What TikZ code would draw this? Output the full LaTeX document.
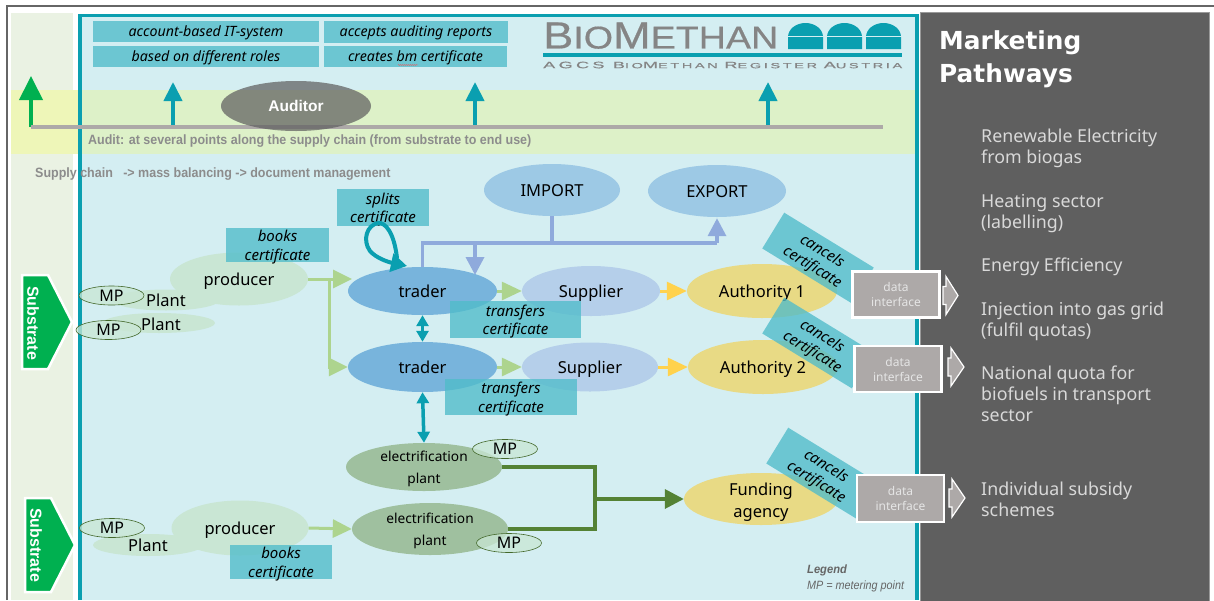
\documentclass[tikz,border=0pt]{standalone}
\usepackage{fontspec}
\setmainfont{Noto Sans}
\newfontfamily\arialfont{Liberation Sans}
\newfontfamily\logofont[FakeBold=0.5]{Liberation Sans}
\newfontfamily\logosubfont[LetterSpace=18,FakeBold=0.5]{Liberation Sans}
\newfontfamily\headfont{DejaVu Sans}
\usetikzlibrary{arrows.meta,calc,decorations.pathmorphing,shapes.geometric}
\definecolor{tealline}{HTML}{0A9FB0}
\definecolor{panelblue}{HTML}{D4EEF2}
\definecolor{palegreen}{HTML}{EAF2E3}
\definecolor{bandgreen}{HTML}{DDF1C8}
\definecolor{bandyellow}{HTML}{EEF6B8}
\definecolor{darkpanel}{HTML}{5F5F5F}
\definecolor{certteal}{HTML}{50BCCA}
\definecolor{plantgreen}{HTML}{C9E6D4}
\definecolor{tradeblue}{HTML}{78B4DC}
\definecolor{portblue}{HTML}{9DC9E5}
\definecolor{suppblue}{HTML}{B5CFEA}
\definecolor{authyellow}{HTML}{E8DA85}
\definecolor{elecgreen}{HTML}{9FC09F}
\definecolor{linkblue}{HTML}{8FAADC}
\definecolor{linkgreen}{HTML}{ADD48E}
\definecolor{linkyellow}{HTML}{FFD24D}
\definecolor{linkdark}{HTML}{548235}
\definecolor{substgreen}{HTML}{00B050}
\definecolor{ifacegrey}{HTML}{ADA9A8}
\definecolor{textgrey}{HTML}{8C8C8C}
\tikzset{
	plainoval/.style={ellipse,inner sep=0pt,draw=none,text=black,align=center,text height=12pt,text depth=0pt,font=\fontsize{16.5}{21}\selectfont},
	twolineoval/.style={plainoval,text height=36pt,text depth=0pt,font=\fontsize{16.5}{22}\selectfont},
	elecoval/.style={plainoval,text height=33pt,text depth=0pt,fill=elecgreen,font=\fontsize{13.7}{22}\selectfont},
	mpoval/.style={ellipse,inner sep=0pt,draw=linkdark!80!black,line width=0.6pt,fill=plantgreen,fill opacity=0.75,text opacity=1,minimum width=65pt,minimum height=19pt,font=\fontsize{16}{18}\selectfont},
	certbox/.style={rectangle,inner sep=0pt,fill=certteal,fill opacity=0.78,text opacity=1,align=center,text height=31pt,text depth=1pt,font=\fontsize{15}{18.5}\selectfont\itshape},
	topbox/.style={rectangle,inner sep=0pt,fill=certteal,fill opacity=0.78,text opacity=1,text height=12pt,text depth=3pt,font=\fontsize{14.2}{18}\selectfont\itshape},
	ifacebox/.style={rectangle,inner sep=0pt,draw=white,line width=2.5pt,fill=ifacegrey,text=white!90!black,align=center,minimum width=87pt,minimum height=46pt,font=\fontsize{12}{15}\selectfont},
	sidetext/.style={anchor=north west,inner sep=0pt,text=white!85!black,align=left,font=\fontsize{17.8}{21}\selectfont},
	greylabel/.style={anchor=west,inner sep=0pt,text=textgrey,font=\arialfont\bfseries\fontsize{13.5}{14}\selectfont},
	teallink/.style={line width=4pt,draw=tealline,-{Triangle[length=19pt,width=18pt]}},
	tealboth/.style={line width=3.5pt,draw=tealline,{Triangle[length=11pt,width=12pt]}-{Triangle[length=11pt,width=12pt]}},
	bluelink/.style={line width=3.5pt,draw=linkblue},
	greenlink/.style={line width=3pt,draw=linkgreen},
	darklink/.style={line width=3.5pt,draw=linkdark},
}
\def\outarrow(#1)(#2){\draw[line width=1.2pt,draw=white,fill=ifacegrey] ($(#1)+(0,-9)$) -- ++(3,0) -- ++(0,-10) -- ($(#1)+(#2,0)$) -- ($(#1)+(3,19)$) -- ++(0,-10) -- ++(-3,0) -- cycle;}
\def\substrate(#1){\draw[line width=2.5pt,draw=white,fill=substgreen] ($(#1)+(0,-47)$) -- ++(26,0) -- ++(24,47) -- ++(-24,47) -- ++(-26,0) -- cycle;}
\def\dome(#1){\fill[tealline] (#1) -- ++(0,-12) arc[start angle=180,end angle=360,x radius=17.5,y radius=14] -- ++(0,12) -- cycle; \draw[panelblue,line width=0.4pt] ($(#1)+(0,-13)$) -- ++(35,0);}

\begin{document}
\begin{tikzpicture}[x=1pt,y=-1pt]
	%%%%% START %%%%%
	\useasboundingbox (0,0) rectangle (1214,600);
	\fill[white] (0,0) rectangle (1214,600);
	
	% frame and panels
	\draw[line width=2pt,draw=black!60] (7,600) -- (7,6) -- (1214,6);
	\fill[palegreen] (11,13) rectangle (73,600);
	\fill[panelblue] (80,16) rectangle (917,600);
	\fill[bandyellow] (11,90) rectangle (80,154);
	\fill[bandgreen] (80,90) rectangle (917,154);
	\draw[line width=3.5pt,draw=tealline] (80,600) -- (80,15.5) -- (917,15.5) -- (917,600);
	\draw[line width=1pt,draw=black!40,fill=darkpanel] (920.5,601) -- (920.5,12.5) -- (1209.5,12.5) -- (1209.5,601) -- cycle;
	
	% logo
	\dome(788,49)
	\dome(827,49)
	\dome(866,49)
	\fill[tealline] (543,53) rectangle (902,57);
	\node[inner sep=0pt,anchor=south west,text=black!48] (logotext) at (543,49) {\resizebox{235pt}{26pt}{\logofont\fontsize{30}{30}\selectfont B\fontsize{25}{25}\selectfont IO\fontsize{30}{30}\selectfont M\fontsize{25}{25}\selectfont ETHAN}};
	\node[inner sep=0pt,anchor=south west,text=black!48] (logosub) at (543,68.5) {\resizebox{359pt}{6.5pt}{\logosubfont\fontsize{10}{10}\selectfont AGCS B\fontsize{8}{8}\selectfont IO\fontsize{10}{10}\selectfont M\fontsize{8}{8}\selectfont ETHAN \fontsize{10}{10}\selectfont R\fontsize{8}{8}\selectfont EGISTER \fontsize{10}{10}\selectfont A\fontsize{8}{8}\selectfont USTRIA}};
	
	% top boxes
	\node[topbox,minimum width=226pt,minimum height=21pt] (accountbox) at (206,31.5) {account-based IT-system};
	\node[topbox,minimum width=226pt,minimum height=21pt] (rolesbox) at (206,56.5) {based on different roles};
	\node[topbox,minimum width=184pt,minimum height=22pt] (auditbox) at (416,32) {accepts auditing reports};
	\node[topbox,minimum width=183pt,minimum height=21pt] (createbox) at (415.5,56.5) {creates bm certificate};
	\draw[red!70,line width=0.3pt,decorate,decoration={snake,amplitude=0.5pt,segment length=2pt}] (398,65) -- (418,65);
	
	% audit line
	\coordinate (auditL) at (31,127);
	\coordinate (auditR) at (883,127);
	\coordinate (audit1) at (173,127);
	\coordinate (audit2) at (475,127);
	\coordinate (audit3) at (768,127);
	\draw[line width=4pt,draw=substgreen,-{Triangle[length=24pt,width=23pt]}] (auditL) -- (31,76);
	\draw[teallink] (audit1) -- (173,82);
	\draw[teallink] (audit2) -- (475,82);
	\draw[teallink] (audit3) -- (768,82);
	\draw[line width=4pt,draw=ifacegrey] (auditL) -- (auditR);
	\node[ellipse,inner sep=0pt,minimum width=150pt,minimum height=50pt,fill=darkpanel,fill opacity=0.72,text opacity=1,text=white,font=\arialfont\bfseries\fontsize{15.5}{16}\selectfont] (auditor) at (296,106) {Auditor};
	\node[greylabel] (auditnote) at (88,141) {\scalebox{0.925}[1]{Audit: at several points along the supply chain (from substrate to end use)}};
	\node[greylabel] (supplynote) at (35,174.5) {\scalebox{0.925}[1]{Supply chain\ \ \ -> mass balancing -> document management}};
	
	% substrate arrows
	\substrate(22,322)
	\substrate(25,545)
	\node[rotate=-90,inner sep=0pt,text=white,font=\arialfont\bfseries\fontsize{16}{16}\selectfont] (subst1) at (33,323) {Substrate};
	\node[rotate=-90,inner sep=0pt,text=white,font=\arialfont\bfseries\fontsize{16}{16}\selectfont] (subst2) at (36,545) {Substrate};
	
	% upper chain
	\node[plainoval,fill=plantgreen,minimum width=107pt,minimum height=21pt] (plant1) at (166,300) {Plant};
	\node[plainoval,fill=plantgreen,minimum width=112pt,minimum height=20pt] (plant2) at (159,323) {};
	\node[inner sep=0pt,text height=12pt,text depth=0pt,font=\fontsize{16.5}{18}\selectfont] (plant2label) at (161,324) {Plant};
	\node[plainoval,fill=plantgreen,minimum width=138pt,minimum height=53pt] (producer1) at (239,279) {producer};
	\node[mpoval] (mp1) at (111.5,295.5) {MP};
	\node[mpoval] (mp2) at (108.5,330) {MP};
	\node[plainoval,fill=tradeblue,minimum width=149pt,minimum height=48pt] (trader1) at (422.5,291) {trader};
	\node[plainoval,fill=tradeblue,minimum width=149pt,minimum height=50pt] (trader2) at (422.5,367) {trader};
	\node[plainoval,fill=portblue,minimum width=136pt,minimum height=52pt] (import) at (552,190) {IMPORT};
	\node[plainoval,fill=portblue,minimum width=138pt,minimum height=52pt] (export) at (717,191) {EXPORT};
	\node[plainoval,fill=suppblue,minimum width=138pt,minimum height=50pt] (supplier1) at (591,291) {Supplier};
	\node[plainoval,fill=suppblue,minimum width=136pt,minimum height=49pt] (supplier2) at (590,367) {Supplier};
	\node[plainoval,fill=authyellow,minimum width=150pt,minimum height=54pt] (authority1) at (762,291) {Authority 1};
	\node[plainoval,fill=authyellow,minimum width=150pt,minimum height=54pt] (authority2) at (763,367) {Authority 2};
	
	% lower chain
	\node[elecoval,minimum width=156pt,minimum height=48pt] (elec1) at (424,467) {electrification\\plant};
	\node[elecoval,minimum width=156pt,minimum height=52pt] (elec2) at (430,529) {electrification\\plant};
	\node[plainoval,fill=plantgreen,minimum width=110pt,minimum height=22pt] (plant3) at (148,545) {Plant};
	\node[plainoval,fill=plantgreen,minimum width=137pt,minimum height=55pt] (producer2) at (240,528) {producer};
	\node[mpoval] (mp3) at (112,528) {MP};
	\node[mpoval] (mp4) at (505,449) {MP};
	\node[mpoval] (mp5) at (509,543) {MP};
	\node[twolineoval,fill=authyellow,minimum width=154pt,minimum height=52pt] (funding) at (761,499) {Funding\\agency};
	
	% certificate labels
	\node[certbox,minimum width=103pt,minimum height=34pt] (books1) at (277.5,245) {books\\certificate};
	\node[certbox,minimum width=92pt,minimum height=37pt] (splits) at (383,207.5) {splits\\certificate};
	\node[certbox,minimum width=131pt,minimum height=37pt] (transfers1) at (515.5,319.5) {transfers\\certificate};
	\node[certbox,minimum width=132pt,minimum height=36pt] (transfers2) at (511,397) {transfers\\certificate};
	\node[certbox,minimum width=102pt,minimum height=34pt] (books2) at (281,562) {books\\certificate};
	\node[certbox,rotate=-31.5,minimum width=105pt,minimum height=42pt] (cancels1) at (818,258) {cancels\\certificate};
	\node[certbox,rotate=-31.5,minimum width=105pt,minimum height=42pt] (cancels2) at (818,343) {cancels\\certificate};
	\node[certbox,rotate=-31.5,minimum width=105pt,minimum height=42pt] (cancels3) at (822,473) {cancels\\certificate};
	
	% data interfaces
	\outarrow(943,295.5)(15)
	\outarrow(948,367)(16)
	\outarrow(949,498)(16)
	\node[ifacebox] (iface1) at (896,294.5) {data\\interface};
	\node[ifacebox] (iface2) at (898,369) {data\\interface};
	\node[ifacebox,minimum height=47pt] (iface3) at (900.5,498.5) {data\\interface};
	
	% links
	\coordinate (prodtip) at (352,279);
	\coordinate (prodjoin) at (329,279);
	\draw[greenlink,-{Triangle[length=19pt,width=18pt]}] (producer1.east) -- (prodtip);
	\draw[greenlink,-{Triangle[length=19pt,width=18pt]}] (prodjoin) |- (trader2.west);
	\draw[greenlink,-{Triangle[length=20pt,width=18pt]}] (trader1.east) -- (supplier1.west);
	\draw[greenlink,-{Triangle[length=20pt,width=18pt]}] (trader2.east) -- (supplier2.west);
	\draw[greenlink,-{Triangle[length=19pt,width=18pt]}] (producer2.east) -- (elec2.west);
	\draw[line width=3pt,draw=linkyellow,-{Triangle[length=20pt,width=18pt]}] (supplier1.east) -- (authority1.west);
	\draw[line width=3pt,draw=linkyellow,-{Triangle[length=20pt,width=18pt]}] (supplier2.east) -- (authority2.west);
	
	\coordinate (busL) at (475,243);
	\coordinate (busR) at (717,243);
	\coordinate (droptip) at (475,275);
	\draw[bluelink] (trader1.north) |- (busR);
	\draw[bluelink] (import.south) -- (import.south |- busR);
	\draw[bluelink,-{Triangle[length=18pt,width=18pt]},shorten >=1pt] (busR) -- (export.south);
	\draw[bluelink,-{Triangle[length=18pt,width=18pt]}] (busL) -- (droptip);
	
	\draw[tealboth] (trader1.south) -- (trader2.north);
	\draw[tealboth] (trader2.south) -- (elec1.north);
	\coordinate (looptip) at (407,266);
	\draw[line width=4pt,draw=tealline,-{Triangle[length=16pt,width=18pt]}] (397,258) .. controls (394,232) and (385,222) .. (378,223) .. controls (367,225) and (362,240) .. (370,251) .. controls (376,258) and (388,262) .. (looptip);
	
	\coordinate (darkjoinT) at (595,467);
	\coordinate (darkjoinB) at (595,529);
	\coordinate (darkjoinM) at (595,499);
	\draw[darklink] (elec1.east) -- (darkjoinT) -- (darkjoinB) -- (elec2.east);
	\draw[darklink,-{Triangle[length=19pt,width=19pt]}] (darkjoinM) -- (funding.west);
	
	% legend
	\node[anchor=west,inner sep=0pt,text=black!60,font=\arialfont\bfseries\itshape\fontsize{12}{13}\selectfont] (legend) at (807,570.5) {\scalebox{0.93}[1]{Legend}};
	\node[anchor=west,inner sep=0pt,text=black!60,font=\arialfont\itshape\fontsize{12}{13}\selectfont] (legendmp) at (807,586.5) {\scalebox{0.9}[1]{MP = metering point}};
	
	% marketing pathways
	\node[anchor=north west,inner sep=0pt,text=white,align=left,font=\headfont\bfseries\fontsize{24.8}{33}\selectfont] (pathways) at (939,30) {Marketing\\Pathways};
	\node[sidetext] (path1) at (981,129) {Renewable Electricity\\from biogas};
	\node[sidetext] (path2) at (981,194) {Heating sector\\(labelling)};
	\node[sidetext] (path3) at (981,258) {Energy Efficiency};
	\node[sidetext] (path4) at (981,302) {Injection into gas grid\\(fulfil quotas)};
	\node[sidetext] (path5) at (981,366) {National quota for\\biofuels in transport\\sector};
	\node[sidetext] (path6) at (981,482) {Individual subsidy\\schemes};
	
	%%%%% END %%%%%
\end{tikzpicture}
\end{document}
